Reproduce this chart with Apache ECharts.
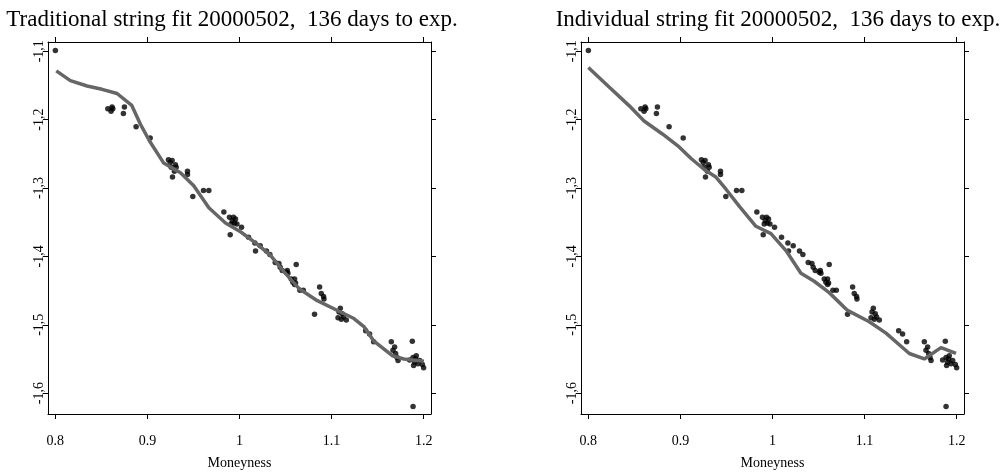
<!DOCTYPE html>
<html>
<head>
<meta charset="utf-8">
<script src="https://cdn.jsdelivr.net/npm/echarts@6/dist/echarts.min.js"></script>
<style>
html,body{margin:0;padding:0;background:#fff;}
#c{width:1002px;height:475px;}
</style>
</head>
<body>
<div id="c"></div>
<script>
// Observed (moneyness, implied-vol-like value) points, shared by both panels
const obsM = [0.800,0.857,0.8616,0.8624,0.8605,0.875,0.8739,0.8877,0.903,0.9228,0.9268,0.9247,0.9304,0.9258,0.9312,0.9293,0.9272,0.9435,0.9435,0.9493,0.9609,0.9667,0.983,0.9891,0.9935,0.9957,0.9921,0.9946,0.991,0.9972,0.9899,1.0022,1.0098,1.0167,1.0225,1.0174,1.0293,1.033,1.0388,1.0428,1.0442,1.0464,1.0519,1.0616,1.0508,1.0526,1.0562,1.0598,1.058,1.0609,1.0598,1.0656,1.0693,1.087,1.0888,1.0913,1.0917,1.0815,1.1095,1.1081,1.1116,1.107,1.113,1.116,1.1106,1.137,1.1413,1.1457,1.1649,1.1685,1.1667,1.1696,1.1711,1.1722,1.1877,1.1848,1.1885,1.1902,1.192,1.1939,1.1891,1.1957,1.1986,1.1913,1.2,1.1885];
const obsV = [-1.099,-1.184,-1.1817,-1.184,-1.1878,-1.1817,-1.191,-1.2105,-1.227,-1.2588,-1.2598,-1.2626,-1.2659,-1.2697,-1.2697,-1.2754,-1.284,-1.2754,-1.2801,-1.3124,-1.3038,-1.3038,-1.335,-1.3426,-1.3426,-1.3455,-1.3479,-1.3511,-1.3526,-1.3526,-1.3682,-1.3574,-1.372,-1.3805,-1.3844,-1.3923,-1.3923,-1.3971,-1.409,-1.4104,-1.416,-1.4207,-1.4207,-1.4118,-1.4232,-1.4246,-1.4331,-1.4331,-1.4378,-1.4388,-1.4412,-1.4497,-1.4497,-1.4449,-1.4544,-1.4587,-1.4625,-1.4847,-1.4757,-1.4814,-1.4838,-1.4899,-1.4885,-1.4932,-1.4918,-1.5088,-1.5136,-1.525,-1.525,-1.5325,-1.5372,-1.542,-1.5477,-1.5524,-1.524,-1.5514,-1.5477,-1.5548,-1.5453,-1.5571,-1.5595,-1.5524,-1.5581,-1.55,-1.563,-1.6196];

// Traditional string fit curve
const tradM = [0.801,0.8163,0.8345,0.8507,0.867,0.883,0.8924,0.903,0.9177,0.9359,0.9503,0.9667,0.9848,1.0011,1.0192,1.0337,1.0482,1.0645,1.0845,1.1098,1.1243,1.1351,1.146,1.166,1.1786,1.2003];
const tradV = [-1.1287,-1.143,-1.1509,-1.1557,-1.1618,-1.1793,-1.2068,-1.2328,-1.2636,-1.2778,-1.2967,-1.329,-1.3511,-1.364,-1.382,-1.3986,-1.4222,-1.4469,-1.4648,-1.4814,-1.4909,-1.5027,-1.524,-1.5453,-1.55,-1.5534];

// Individual string fit curve
const indM = [0.8,0.8225,0.8442,0.8605,0.8804,0.8986,0.9113,0.9258,0.9385,0.9493,0.9638,0.982,0.9983,1.0146,1.0309,1.0453,1.0616,1.0815,1.1051,1.1233,1.1486,1.1649,1.183,1.1993];
const indV = [-1.1239,-1.1523,-1.1795,-1.202,-1.221,-1.2399,-1.2565,-1.273,-1.284,-1.3014,-1.3265,-1.356,-1.3668,-1.3915,-1.4246,-1.4364,-1.453,-1.479,-1.4957,-1.5122,-1.542,-1.55,-1.5335,-1.542];

const xTicks = [0.8, 0.9, 1.0, 1.1, 1.2];
const yTicks = [-1.6, -1.5, -1.4, -1.3, -1.2, -1.1];
const titles = ['Traditional string fit 20000502,  136 days to exp.', 'Individual string fit 20000502,  136 days to exp.'];
const xName = 'Moneyness';

const FONT = 'Liberation Serif';
const X_MIN = 0.792, X_MAX = 1.208;
const Y_MIN = -1.6305, Y_MAX = -1.0865;

const pairs = (a, b) => a.map((v, i) => [v, b[i]]);
const grids = [{left: 48, top: 42, width: 383, height: 383}, {left: 581, top: 42, width: 383, height: 383}];

const lineStyleAxis = {color: '#000', width: 1};
function xAx(gi, pos, labels) {
  return {
    type: 'value', gridIndex: gi, position: pos, min: X_MIN, max: X_MAX,
    axisLine: {show: true, onZero: false, lineStyle: lineStyleAxis},
    axisTick: {show: true, inside: false, length: 5, customValues: xTicks, lineStyle: lineStyleAxis},
    axisLabel: {show: labels, customValues: xTicks, margin: 20, color: '#000', fontFamily: FONT, fontSize: 14,
      formatter: v => String(Math.round(v * 10) / 10)},
    splitLine: {show: false},
    name: labels ? xName : '', nameLocation: 'middle', nameGap: 42,
    nameTextStyle: {color: '#000', fontFamily: FONT, fontSize: 14}
  };
}
function yAx(gi, pos, labels) {
  return {
    type: 'value', gridIndex: gi, position: pos, min: Y_MIN, max: Y_MAX,
    axisLine: {show: true, onZero: false, lineStyle: lineStyleAxis},
    axisTick: {show: true, inside: false, length: 5, customValues: yTicks, lineStyle: lineStyleAxis},
    axisLabel: {show: labels, customValues: yTicks, rotate: 90, margin: 2, color: '#000', fontFamily: FONT, fontSize: 14,
      formatter: v => String(Math.round(v * 10) / 10).replace('.', ',')},
    splitLine: {show: false}
  };
}

const titleStyle = {fontFamily: FONT, fontSize: 23, fontWeight: 'normal', color: '#000'};
const option = {
  animation: false,
  backgroundColor: '#fff',
  title: [
    {text: titles[0], left: 227, top: 3, textAlign: 'center', textStyle: titleStyle},
    {text: titles[1], left: 773, top: 3, textAlign: 'center', textStyle: titleStyle}
  ],
  grid: grids,
  xAxis: [xAx(0, 'bottom', true), xAx(0, 'top', false), xAx(1, 'bottom', true), xAx(1, 'top', false)],
  yAxis: [yAx(0, 'left', true), yAx(0, 'right', false), yAx(1, 'left', true), yAx(1, 'right', false)],
  series: [
    {type: 'scatter', xAxisIndex: 0, yAxisIndex: 0, data: pairs(obsM, obsV), symbol: 'circle', symbolSize: 5.5, itemStyle: {color: '#000'}, z: 2},
    {type: 'line', xAxisIndex: 0, yAxisIndex: 0, data: pairs(tradM, tradV), showSymbol: false, symbol: 'none', lineStyle: {color: '#666', width: 3.5}, z: 3},
    {type: 'scatter', xAxisIndex: 2, yAxisIndex: 2, data: pairs(obsM, obsV), symbol: 'circle', symbolSize: 5.5, itemStyle: {color: '#000'}, z: 2},
    {type: 'line', xAxisIndex: 2, yAxisIndex: 2, data: pairs(indM, indV), showSymbol: false, symbol: 'none', lineStyle: {color: '#666', width: 3.5}, z: 3}
  ]
};
const chart = echarts.init(document.getElementById('c'), null, {renderer: 'canvas'});
chart.setOption(option);
</script>
</body>
</html>
